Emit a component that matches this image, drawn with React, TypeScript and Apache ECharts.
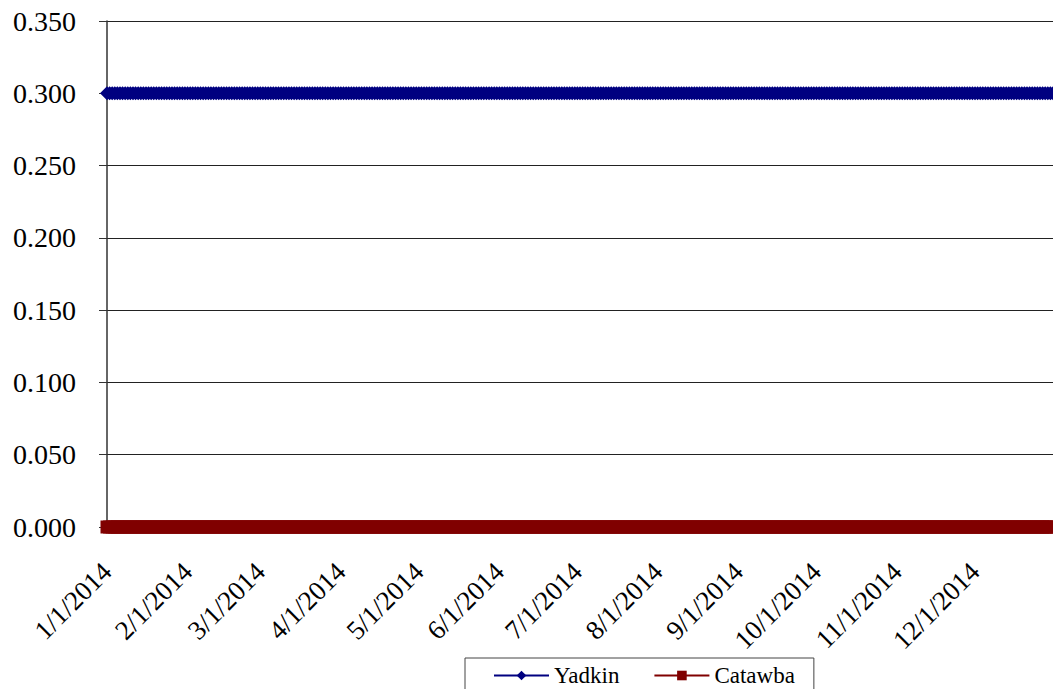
import React, { useEffect, useRef } from "react";
import * as echarts from "echarts";

// Monthly tick labels on the date axis
const monthTickLabels = [
  "1/1/2014", "2/1/2014", "3/1/2014", "4/1/2014", "5/1/2014", "6/1/2014",
  "7/1/2014", "8/1/2014", "9/1/2014", "10/1/2014", "11/1/2014", "12/1/2014",
];
const daysInMonth = [31, 28, 31, 30, 31, 30, 31, 31, 30, 31, 30, 31];
// Daily value read for every day of each month (the series are flat all year)
const yadkinByMonth = [0.3, 0.3, 0.3, 0.3, 0.3, 0.3, 0.3, 0.3, 0.3, 0.3, 0.3, 0.3];
const catawbaByMonth = [0, 0, 0, 0, 0, 0, 0, 0, 0, 0, 0, 0];
const yTicks = [0, 0.05, 0.1, 0.15, 0.2, 0.25, 0.3, 0.35];

const categories: string[] = [];
const yadkin: number[] = [];
const catawba: number[] = [];
daysInMonth.forEach((n, m) => {
  for (let d = 1; d <= n; d++) {
    categories.push(`${m + 1}/${d}/2014`);
    yadkin.push(yadkinByMonth[m]);
    catawba.push(catawbaByMonth[m]);
  }
});

const FONT = "Liberation Serif";

export default function App() {
  const ref = useRef<HTMLDivElement>(null);
  useEffect(() => {
    if (!ref.current) return;
    const chart = echarts.init(ref.current, undefined, { renderer: "svg" });
    const isTick = (_i: number, v: string) => monthTickLabels.includes(v);
    chart.setOption({
      animation: false,
      backgroundColor: "#ffffff",
      textStyle: { fontFamily: FONT },
      grid: { left: 107, top: 21, bottom: 162, right: -6, containLabel: false },
      xAxis: {
        type: "category",
        data: categories,
        boundaryGap: false,
        axisLine: { show: true, lineStyle: { color: "#333", width: 1.5 } },
        axisTick: { show: true, interval: isTick, length: 5, lineStyle: { color: "#333" } },
        axisLabel: {
          interval: isTick,
          rotate: 45,
          margin: 40,
          fontSize: 27,
          fontFamily: FONT,
          color: "#000",
        },
        splitLine: { show: false },
      },
      yAxis: {
        type: "value",
        min: yTicks[0],
        max: yTicks[yTicks.length - 1],
        interval: 0.05,
        axisLine: { show: true, lineStyle: { color: "#333", width: 1.5 } },
        axisTick: { show: true, length: 8, lineStyle: { color: "#333" } },
        axisLabel: {
          margin: 31,
          fontSize: 28,
          fontFamily: FONT,
          color: "#000",
          formatter: (v: number) => v.toFixed(3),
        },
        splitLine: { show: true, lineStyle: { color: "#222", width: 1 } },
      },
      legend: {
        left: 465,
        top: 658,
        orient: "horizontal",
        itemWidth: 55,
        itemHeight: 12,
        itemGap: 34,
        padding: [6, 19, 24, 28],
        borderColor: "#444",
        borderWidth: 1,
        textStyle: { fontSize: 23, fontFamily: FONT, color: "#000" },
        data: ["Yadkin", "Catawba"],
      },
      series: [
        {
          name: "Yadkin",
          type: "line",
          data: yadkin,
          symbol: "diamond",
          symbolSize: 14,
          showAllSymbol: true,
          clip: false,
          color: "#000080",
          lineStyle: { color: "#000080", width: 2 },
          itemStyle: { color: "#000080" },
        },
        {
          name: "Catawba",
          type: "line",
          data: catawba,
          symbol: "rect",
          symbolSize: 13,
          showAllSymbol: true,
          clip: false,
          color: "#800000",
          lineStyle: { color: "#800000", width: 2 },
          itemStyle: { color: "#800000" },
        },
      ],
    });
    return () => chart.dispose();
  }, []);
  return (
    <div
      ref={ref}
      style={{ position: "absolute", left: 0, top: 0, width: 1053, height: 689 }}
    />
  );
}
